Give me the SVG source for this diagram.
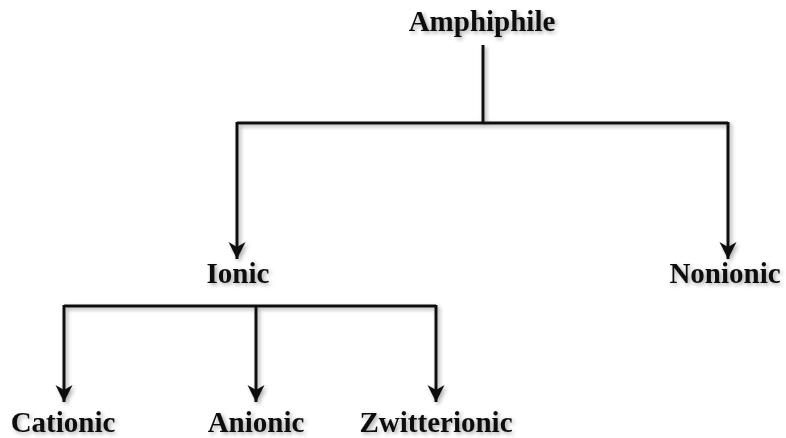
<svg xmlns="http://www.w3.org/2000/svg" width="786" height="438" viewBox="0 0 786 438">
<defs>
<style>
.lbl{font-family:"Liberation Serif","Times New Roman",serif;font-weight:bold;font-size:29px;fill:#111;text-anchor:middle}
.ln{stroke:#111;stroke-width:3;fill:none}
</style>
<marker id="ah" viewBox="0 0 20 20" refX="19" refY="10" markerWidth="20" markerHeight="20" markerUnits="userSpaceOnUse" orient="auto">
<path d="M2,1.5 L19,10 L2,18.5 L7,10 Z" fill="#111"/>
</marker>
<filter id="sh" x="-10%" y="-10%" width="130%" height="130%">
<feGaussianBlur in="SourceAlpha" stdDeviation="2"/>
<feOffset dx="2" dy="2"/>
<feComponentTransfer><feFuncA type="linear" slope="0.35"/></feComponentTransfer>
<feMerge><feMergeNode/><feMergeNode in="SourceGraphic"/></feMerge>
</filter>
</defs>
<rect width="786" height="438" fill="#fff"/>
<g id="connectors" filter="url(#sh)">
<path class="ln" d="M483,45 V123"/>
<path class="ln" d="M237,123 H728"/>
<path class="ln" d="M237,122 V259" marker-end="url(#ah)"/>
<path class="ln" d="M728,122 V259" marker-end="url(#ah)"/>
<path class="ln" d="M64,306 H436"/>
<path class="ln" d="M64,305 V402" marker-end="url(#ah)"/>
<path class="ln" d="M256,305 V402" marker-end="url(#ah)"/>
<path class="ln" d="M436,305 V402" marker-end="url(#ah)"/>
</g>
<g id="amphiphile" filter="url(#sh)"><text class="lbl" x="482" y="31">Amphiphile</text></g>
<g id="ionic" filter="url(#sh)"><text class="lbl" x="238" y="283">Ionic</text></g>
<g id="nonionic" filter="url(#sh)"><text class="lbl" x="725" y="283">Nonionic</text></g>
<g id="cationic" filter="url(#sh)"><text class="lbl" x="63" y="432">Cationic</text></g>
<g id="anionic" filter="url(#sh)"><text class="lbl" x="256" y="432">Anionic</text></g>
<g id="zwitterionic" filter="url(#sh)"><text class="lbl" x="436" y="432">Zwitterionic</text></g>
</svg>
